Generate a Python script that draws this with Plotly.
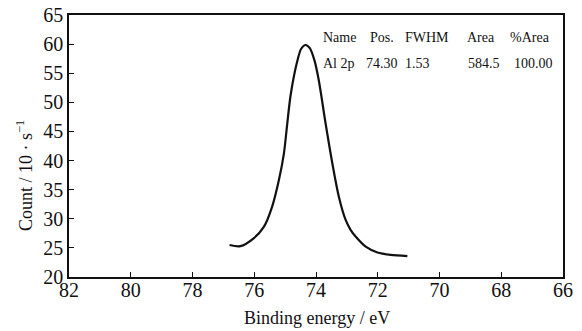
import plotly.graph_objects as go

# Binding energy (eV) and counts
energy = [76.80, 76.45, 76.02, 75.69, 75.42, 75.20, 75.04, 74.93, 74.82, 74.61,
          74.48, 74.34, 74.20, 74.05, 73.91, 73.69, 73.47, 73.26, 73.04, 72.88,
          72.71, 72.39, 72.01, 71.58, 71.04]
counts = [25.5, 25.3, 26.65, 28.6, 32.1, 36.7, 41.2, 46.4, 51.3, 57.0,
          59.2, 59.85, 59.3, 57.2, 53.8, 46.4, 39.5, 33.8, 29.8, 28.1,
          26.9, 25.2, 24.2, 23.8, 23.6]

x_ticks = [82, 80, 78, 76, 74, 72, 70, 68, 66]
y_ticks = [20, 25, 30, 35, 40, 45, 50, 55, 60, 65]

table_header = ["Name", "Pos.", "FWHM", "Area", "%Area"]
table_row = ["Al 2p", "74.30", "1.53", "584.5", "100.00"]

x_title = "Binding energy / eV"
y_title = "Count / 10 · s<sup>−1</sup>"

FONT = "Liberation Serif, Times New Roman, serif"

fig = go.Figure()
fig.add_trace(go.Scatter(x=energy, y=counts, mode="lines",
                         line=dict(color="#111111", width=2.2, shape="spline", smoothing=0.8),
                         showlegend=False, hoverinfo="skip"))

L, R, T, B = 69, 19, 15, 54
W, H = 582, 331
pw = W - L - R
ph = H - T - B

def px2paper_x(px):
    return (px - L) / pw

def py2paper_y(py):
    return 1 - (py - T) / ph

header_px = [321, 368, 403, 465, 508]
row_px = [321, 364, 403, 466, 512]
annotations = []
for txt, px in zip(table_header, header_px):
    annotations.append(dict(text=txt, x=px2paper_x(px), y=py2paper_y(37), xref="paper", yref="paper",
                            xanchor="left", yanchor="middle", showarrow=False,
                            font=dict(family=FONT, size=14, color="#111111")))
for txt, px in zip(table_row, row_px):
    annotations.append(dict(text=txt, x=px2paper_x(px), y=py2paper_y(63.5), xref="paper", yref="paper",
                            xanchor="left", yanchor="middle", showarrow=False,
                            font=dict(family=FONT, size=14, color="#111111")))

annotations.append(dict(text=x_title, x=px2paper_x(317), y=py2paper_y(318), xref="paper", yref="paper",
                        xanchor="center", yanchor="middle", showarrow=False,
                        font=dict(family=FONT, size=18, color="#111111")))
annotations.append(dict(text=y_title, x=px2paper_x(24), y=py2paper_y(176), xref="paper", yref="paper",
                        xanchor="center", yanchor="middle", showarrow=False, textangle=-90,
                        font=dict(family=FONT, size=18, color="#111111")))

axis_common = dict(showgrid=False, zeroline=False, showline=True, linecolor="#111111", linewidth=1.5,
                   mirror=True, ticks="inside", ticklen=5, tickwidth=1.2, tickcolor="#111111",
                   automargin=False,
                   tickfont=dict(family=FONT, size=20, color="#111111"))

fig.update_layout(
    width=W, height=H,
    margin=dict(l=L, r=R, t=T, b=B),
    paper_bgcolor="white", plot_bgcolor="white",
    xaxis=dict(range=[82, 66], tickvals=x_ticks, ticktext=[str(v) for v in x_ticks],
               ticklabelstandoff=-6, **axis_common),
    yaxis=dict(range=[20, 65], tickvals=y_ticks, ticktext=[str(v) for v in y_ticks], **axis_common),
    annotations=annotations,
)

fig.write_html("out.html")
